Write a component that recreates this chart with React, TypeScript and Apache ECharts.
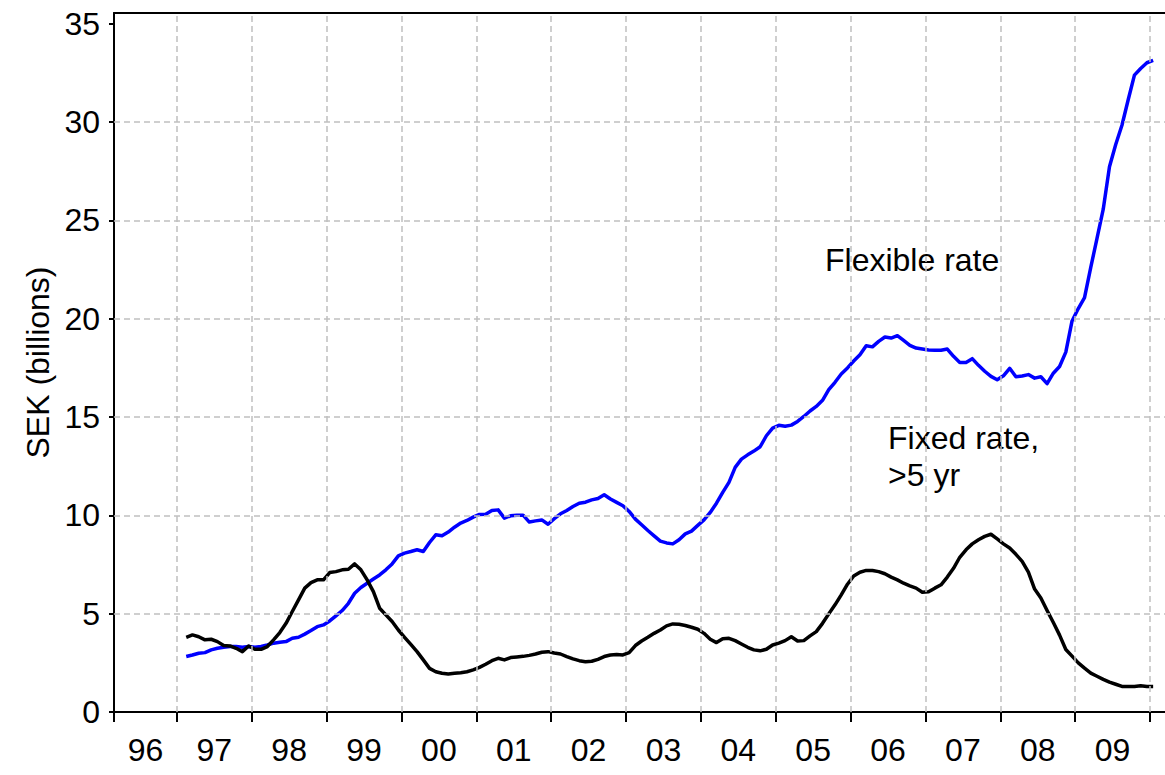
import React, { useEffect, useRef } from "react";
import * as echarts from "echarts";

// Monthly observations, starting February 1997 (mid-month), SEK billions
const FIRST_MONTH = 1997 + 1.5 / 12;

const flexibleRate = [
  2.82, 2.90, 2.99, 3.02, 3.16, 3.24, 3.29, 3.33, 3.33, 3.29, 3.33, 3.29,
  3.33, 3.41, 3.50, 3.55, 3.58, 3.75, 3.80, 3.96, 4.14, 4.34, 4.43, 4.63,
  4.89, 5.16, 5.53, 6.04, 6.33, 6.55, 6.76, 6.97, 7.23, 7.53, 7.94, 8.08,
  8.16, 8.25, 8.16, 8.62, 9.01, 8.96, 9.15, 9.40, 9.61, 9.74, 9.91, 10.05,
  10.06, 10.25, 10.28, 9.86, 9.98, 10.01, 10.01, 9.66, 9.72, 9.77, 9.55, 9.83,
  10.08, 10.25, 10.45, 10.62, 10.67, 10.79, 10.86, 11.05, 10.83, 10.66, 10.49, 10.2,
  9.81, 9.52, 9.23, 8.96, 8.69, 8.60, 8.55, 8.76, 9.06, 9.20, 9.49, 9.77,
  10.15, 10.62, 11.17, 11.68, 12.44, 12.86, 13.08, 13.27, 13.49, 14.05, 14.44, 14.58,
  14.53, 14.59, 14.78, 15.03, 15.31, 15.54, 15.85, 16.39, 16.77, 17.19, 17.5, 17.85,
  18.17, 18.63, 18.57, 18.85, 19.07, 19.02, 19.14, 18.90, 18.65, 18.51, 18.46, 18.41,
  18.40, 18.40, 18.46, 18.09, 17.78, 17.78, 17.97, 17.63, 17.33, 17.07, 16.90, 17.1,
  17.48, 17.05, 17.09, 17.16, 16.98, 17.05, 16.70, 17.23, 17.57, 18.30, 19.89, 20.52,
  21.07, 22.61, 24.09, 25.57, 27.73, 28.86, 29.84, 31.14, 32.39, 32.73, 33.02, 33.14,
];

const fixedRate = [
  3.80, 3.92, 3.83, 3.67, 3.70, 3.58, 3.38, 3.36, 3.24, 3.07, 3.36, 3.19,
  3.19, 3.33, 3.67, 4.04, 4.51, 5.11, 5.70, 6.30, 6.58, 6.72, 6.72, 7.09,
  7.14, 7.23, 7.26, 7.53, 7.23, 6.72, 6.12, 5.28, 4.94, 4.60, 4.17, 3.80,
  3.44, 3.07, 2.65, 2.22, 2.05, 1.97, 1.93, 1.97, 2.00, 2.05, 2.14, 2.27,
  2.43, 2.61, 2.73, 2.65, 2.77, 2.80, 2.83, 2.88, 2.95, 3.04, 3.07, 3.00,
  2.95, 2.82, 2.70, 2.61, 2.56, 2.58, 2.68, 2.82, 2.90, 2.92, 2.90, 3.02,
  3.38, 3.61, 3.80, 4.00, 4.17, 4.38, 4.48, 4.46, 4.40, 4.31, 4.21, 4.00,
  3.70, 3.53, 3.73, 3.75, 3.63, 3.46, 3.29, 3.16, 3.11, 3.19, 3.41, 3.50,
  3.63, 3.83, 3.61, 3.63, 3.87, 4.09, 4.51, 4.99, 5.45, 5.96, 6.5, 6.92,
  7.11, 7.20, 7.20, 7.14, 7.03, 6.86, 6.72, 6.55, 6.41, 6.30, 6.09, 6.11,
  6.30, 6.47, 6.86, 7.31, 7.87, 8.25, 8.55, 8.76, 8.93, 9.04, 8.80, 8.55,
  8.34, 8.02, 7.66, 7.11, 6.25, 5.80, 5.16, 4.55, 3.91, 3.18, 2.84, 2.50,
  2.23, 1.98, 1.82, 1.66, 1.52, 1.41, 1.30, 1.30, 1.30, 1.34, 1.30, 1.30,
];

const yearLabels = ["96", "97", "98", "99", "00", "01", "02", "03", "04", "05", "06", "07", "08", "09"];
const yearBoundaries = [1997, 1998, 1999, 2000, 2001, 2002, 2003, 2004, 2005, 2006, 2007, 2008, 2009, 2010];
const yTickValues = [0, 5, 10, 15, 20, 25, 30, 35];
const yGridValues = [5, 10, 15, 20, 25, 30];

const X_MIN = 1996.16;
const X_MAX = 2010.2;
const Y_MAX = 35.55;

const FONT = "'Liberation Sans', Arial, Helvetica, sans-serif";

export default function App() {
  const ref = useRef<HTMLDivElement>(null);

  useEffect(() => {
    if (!ref.current) return;
    const chart = echarts.init(ref.current, null, { renderer: "svg" });

    const toPairs = (vals: number[]) => vals.map((v, i) => [FIRST_MONTH + i / 12, v]);
    const labelPositions = yearLabels.map((_, k) => (k === 0 ? (X_MIN + 1997) / 2 : 1996 + k + 0.5));

    const pxPerYear = 75.23;
    const gridWidth = (X_MAX - X_MIN) * pxPerYear;

    chart.setOption({
      animation: false,
      backgroundColor: "#ffffff",
      textStyle: { fontFamily: FONT },
      grid: { left: 114, top: 13, width: gridWidth, height: 699, containLabel: false },
      xAxis: [
        {
          type: "value",
          min: X_MIN,
          max: X_MAX,
          position: "bottom",
          axisLine: { show: true, onZero: false, lineStyle: { color: "#000", width: 2 } },
          axisTick: {
            show: true,
            inside: false,
            length: 10,
            customValues: [X_MIN, ...yearBoundaries],
            lineStyle: { color: "#000", width: 2 },
          },
          axisLabel: {
            show: true,
            customValues: labelPositions,
            formatter: (v: number) => yearLabels[Math.floor(v + 1e-6) - 1996] ?? "",
            margin: 22,
            fontSize: 32,
            color: "#000",
            fontFamily: FONT,
          },
          splitLine: { show: false },
        },
        {
          type: "value",
          min: X_MIN,
          max: X_MAX,
          position: "top",
          axisLine: { show: true, onZero: false, lineStyle: { color: "#000", width: 2 } },
          axisTick: { show: false },
          axisLabel: { show: false },
          splitLine: { show: false },
        },
      ],
      yAxis: {
        type: "value",
        min: 0,
        max: Y_MAX,
        name: "SEK (billions)",
        nameLocation: "middle",
        nameRotate: 90,
        nameGap: 60,
        nameTextStyle: { fontSize: 32, color: "#000", fontFamily: FONT },
        axisLine: { show: true, onZero: false, lineStyle: { color: "#000", width: 2 } },
        axisTick: {
          show: true,
          inside: false,
          length: 5,
          customValues: yTickValues,
          lineStyle: { color: "#000", width: 2 },
        },
        axisLabel: {
          show: true,
          customValues: yTickValues,
          margin: 14,
          fontSize: 32,
          color: "#000",
          fontFamily: FONT,
        },
        splitLine: { show: false },
      },
      series: [
        {
          name: "grid",
          type: "line",
          data: [],
          z: 1,
          silent: true,
          markLine: {
            silent: true,
            symbol: "none",
            animation: false,
            label: { show: false },
            lineStyle: { color: "#c0c0c0", type: [6, 4], width: 1.5 },
            data: [
              ...yearBoundaries.map((x) => ({ xAxis: x })),
              ...yGridValues.map((y) => ({ yAxis: y })),
            ],
          },
        },
        {
          name: "Flexible rate",
          type: "line",
          data: toPairs(flexibleRate),
          showSymbol: false,
          symbol: "none",
          z: 3,
          lineStyle: { color: "#0000ff", width: 3.5, join: "round" },
          itemStyle: { color: "#0000ff" },
        },
        {
          name: "Fixed rate, >5 yr",
          type: "line",
          data: toPairs(fixedRate),
          showSymbol: false,
          symbol: "none",
          z: 4,
          lineStyle: { color: "#000000", width: 3.5, join: "round" },
          itemStyle: { color: "#000000" },
        },
      ],
      graphic: [
        {
          type: "text",
          left: 825,
          top: 244,
          style: { text: "Flexible rate", fontSize: 32, fill: "#000", font: `32px ${FONT}` },
        },
        {
          type: "text",
          left: 888,
          top: 422,
          style: { text: "Fixed rate,", fontSize: 32, fill: "#000", font: `32px ${FONT}` },
        },
        {
          type: "text",
          left: 888,
          top: 459,
          style: { text: ">5 yr", fontSize: 32, fill: "#000", font: `32px ${FONT}` },
        },
      ],
    });

    return () => chart.dispose();
  }, []);

  return (
    <div
      ref={ref}
      style={{ position: "fixed", left: 0, top: 0, width: 1165, height: 775, background: "#fff" }}
    />
  );
}
